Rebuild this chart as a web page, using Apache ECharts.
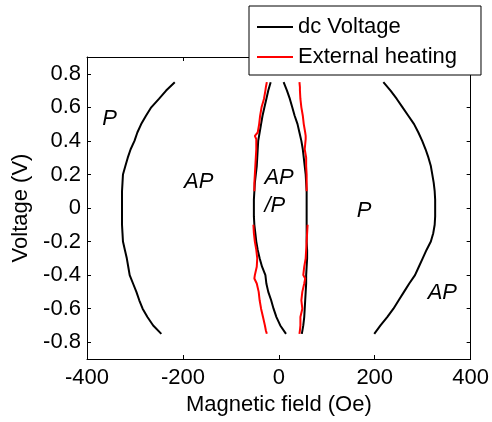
<!DOCTYPE html>
<html>
<head>
<meta charset="utf-8">
<script src="https://cdn.jsdelivr.net/npm/echarts@6/dist/echarts.min.js"></script>
<style>
  html, body { margin: 0; padding: 0; background: #fff; }
  #main { width: 492px; height: 422px; }
</style>
</head>
<body>
<div id="main"></div>
<script>
// voltage samples (V) shared by the dc-voltage boundaries
var voltage = [0.75, 0.7, 0.65, 0.6, 0.55, 0.5, 0.45, 0.4, 0.35, 0.3, 0.25, 0.2, 0.15, 0.1, 0.05, 0,
  -0.05, -0.1, -0.15, -0.2, -0.25, -0.3, -0.35, -0.4, -0.45, -0.5, -0.55, -0.6, -0.65, -0.7, -0.75];

// dc Voltage switching fields (Oe)
var dcLeftOuter = [-217, -235, -250, -266, -277, -287, -295, -301, -309, -315, -320, -325, -326, -327, -327, -327,
  -327, -327, -326, -325, -321, -317, -314, -311, -304, -297, -291, -284, -274, -262, -245];
var dcRightOuter = [218, 233, 246, 258, 270, 282, 291, 299, 306, 312, 317, 320, 323, 325, 326, 326,
  326, 325, 322, 317, 308, 300, 292, 284, 272, 261, 250, 239, 226, 212, 199];
var dcLeftInner = [-17, -22, -26, -30, -34, -37, -40, -43, -44, -45, -46, -48, -50, -51, -52, -52,
  -52, -51, -49, -47, -44, -40, -35, -28, -26, -22, -16, -11, -5, 3, 15];
var dcRightInner = [10, 17, 23, 28, 33, 39, 43, 47, 50, 52, 54, 56, 57, 58, 58, 58,
  58, 58, 58, 58, 59, 59, 58, 57, 57, 56, 55, 54, 53, 51, 48];

// External heating branches (drawn only for |V| >= 0.1)
var heatUpperV = [0.75, 0.72, 0.7, 0.65, 0.6, 0.55, 0.5, 0.45, 0.43, 0.41, 0.35, 0.3, 0.25, 0.2, 0.15, 0.1];
var heatLeftUpper = [-25, -27, -28, -31, -36, -39, -41, -44, -50, -47, -47, -48, -49, -50, -51, -51];
var heatRightUpper = [43, 44, 44, 45, 47, 50, 52, 55, 56, 56, 54, 57, 57, 58, 58, 58];
var heatLowerV = [-0.1, -0.15, -0.2, -0.25, -0.3, -0.35, -0.4, -0.42, -0.45, -0.5, -0.55, -0.6, -0.65, -0.7, -0.73, -0.75];
var heatLeftLower = [-53, -52, -50, -47, -45, -46, -50, -51, -46, -42, -40, -37, -33, -29, -27, -25];
var heatRightLower = [60, 59, 58, 57, 56, 53, 51, 55, 53, 49, 47, 49, 45, 45, 44, 43];

// state labels: [field, voltage, text, align]
var stateLabels = [
  [-353, 0.53, 'P', 'center'],
  [-167, 0.155, 'AP', 'center'],
  [-30, 0.18, 'AP', 'left'],
  [-30, 0.01, '/P', 'left'],
  [178, -0.015, 'P', 'center'],
  [341, -0.506, 'AP', 'center']
];

var xTicks = [-400, 400, 200];
var yRange = [-0.9, 0.9];

function pairs(fields, volts) {
  return fields.map(function (h, i) { return [h, volts[i]]; });
}

var FONT = 'Liberation Sans, Arial, sans-serif';
var FS = 22;

function lineSeries(name, color, data) {
  return {
    name: name, type: 'line', data: data, symbol: 'none', silent: true,
    color: color, lineStyle: { color: color, width: 2 }, z: 3
  };
}

var chart = echarts.init(document.getElementById('main'));

var baseX = {
  type: 'value', min: xTicks[0], max: xTicks[1], interval: xTicks[2],
  axisLine: { show: true, onZero: false, lineStyle: { color: '#000', width: 1 } },
  axisTick: { show: true, inside: true, length: 4, lineStyle: { color: '#000' } },
  splitLine: { show: false }
};
var baseY = {
  type: 'value', min: yRange[0], max: yRange[1], splitNumber: 9,
  axisLine: { show: true, onZero: false, lineStyle: { color: '#000', width: 1 } },
  axisTick: { show: true, inside: true, length: 4, lineStyle: { color: '#000' } },
  splitLine: { show: false }
};

var option = {
  animation: false,
  backgroundColor: '#fff',
  grid: { left: 87, top: 57, right: 21, bottom: 63, containLabel: false },
  legend: {
    data: [
      { name: 'dc Voltage', icon: 'rect' },
      { name: 'External heating', icon: 'rect' }
    ],
    orient: 'vertical', left: 249, top: 6,
    backgroundColor: '#fff', borderColor: '#000', borderWidth: 1,
    padding: [9, 24, 6, 8], itemGap: 6, itemWidth: 36, itemHeight: 2,
    textStyle: { fontFamily: FONT, fontSize: FS, color: '#000', lineHeight: 24 },
    selectedMode: false, z: 10
  },
  xAxis: [
    Object.assign({}, baseX, {
      position: 'bottom',
      name: 'Magnetic field (Oe)', nameLocation: 'middle', nameGap: 30,
      nameTextStyle: { fontFamily: FONT, fontSize: FS, color: '#000' },
      axisLabel: { fontFamily: FONT, fontSize: FS, color: '#000', margin: 8 }
    }),
    Object.assign({}, baseX, { position: 'top', axisLabel: { show: false } })
  ],
  yAxis: [
    Object.assign({}, baseY, {
      position: 'left',
      name: 'Voltage (V)', nameLocation: 'middle', nameGap: 55,
      nameTextStyle: { fontFamily: FONT, fontSize: FS, color: '#000' },
      axisLabel: {
        fontFamily: FONT, fontSize: FS, color: '#000', margin: 6,
        showMinLabel: false, showMaxLabel: false,
        formatter: function (v) { return Math.abs(v) < 1e-9 ? '0' : v.toFixed(1); }
      }
    }),
    Object.assign({}, baseY, { position: 'right', axisLabel: { show: false } })
  ],
  series: [
    lineSeries('dc Voltage', '#000000', pairs(dcLeftOuter, voltage)),
    lineSeries('dc Voltage', '#000000', pairs(dcRightOuter, voltage)),
    lineSeries('dc Voltage', '#000000', pairs(dcLeftInner, voltage)),
    lineSeries('dc Voltage', '#000000', pairs(dcRightInner, voltage)),
    lineSeries('External heating', '#ff0000', pairs(heatLeftUpper, heatUpperV)),
    lineSeries('External heating', '#ff0000', pairs(heatRightUpper, heatUpperV)),
    lineSeries('External heating', '#ff0000', pairs(heatLeftLower, heatLowerV)),
    lineSeries('External heating', '#ff0000', pairs(heatRightLower, heatLowerV)),
    {
      name: 'labels', type: 'scatter', symbolSize: 0, silent: true,
      itemStyle: { opacity: 1 },
      data: stateLabels.map(function (d) {
        return {
          value: [d[0], d[1]],
          label: {
            show: true, position: 'inside', formatter: d[2], align: d[3],
            fontFamily: FONT, fontSize: FS, fontStyle: 'italic', color: '#000',
            textBorderWidth: 0
          }
        };
      })
    }
  ]
};

chart.setOption(option);
</script>
</body>
</html>
